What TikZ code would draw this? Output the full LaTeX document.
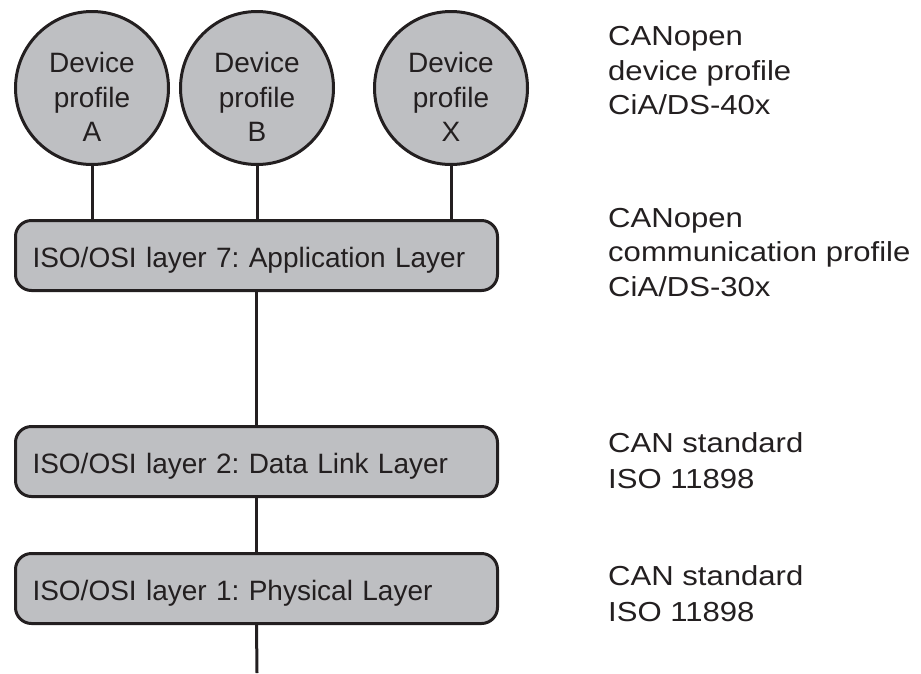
\documentclass[tikz,border=0pt]{standalone}
\usepackage{fontspec}
\setmainfont{Liberation Sans}
\newfontfamily\sidefont[FakeStretch=1.13]{Liberation Sans}
\frenchspacing
\definecolor{boxfill}{RGB}{190,191,194}
\definecolor{ink}{RGB}{35,31,32}
\begin{document}
\begin{tikzpicture}[x=1pt,y=-1pt,
  every node/.style={text=ink},
  circ/.style={circle, draw=ink, fill=boxfill, line width=3pt, minimum size=153pt, inner sep=0pt},
  ctext/.style={align=center, font=\fontsize{28}{34.5}\selectfont, inner sep=0pt},
  layer/.style={draw=ink, fill=boxfill, line width=3pt, rounded corners=16pt,
    minimum width=482pt, minimum height=70pt, inner xsep=17pt, inner ysep=0pt,
    text width=448pt, align=left, text height=24pt, text depth=0pt,
    font=\fontsize{28}{34}\selectfont},
  side/.style={anchor=north west, align=left, inner sep=0pt, font=\sidefont\fontsize{27.5}{34.5}\selectfont},
  sidetwo/.style={side, font=\sidefont\fontsize{27.5}{36.5}\selectfont},
  conn/.style={draw=ink, line width=3pt}]
\useasboundingbox (0,0) rectangle (921,673);

% device profile circles
\node[circ] (A) at (92,88) {};
\node[ctext] (At) at (92,97.3) {Device\\profile\\A};
\node[circ] (B) at (257,88) {};
\node[ctext] (Bt) at (257,97.3) {Device\\profile\\B};
\node[circ] (X) at (451,88) {};
\node[ctext] (Xt) at (451,97.3) {Device\\profile\\X};

% layers
\node[layer] (L7) at (256.5,255.5) {ISO/OSI layer 7: Application Layer};
\node[layer] (L2) at (256.5,461.5) {ISO/OSI layer 2: Data Link Layer};
\node[layer] (L1) at (256.5,588.5) {ISO/OSI layer 1: Physical Layer};
\coordinate (bot) at (257,673);

% connectors
\draw[conn] (A.south) -- (A.south |- L7.north);
\draw[conn] (B.south) -- (B.south |- L7.north);
\draw[conn] (X.south) -- (X.south |- L7.north);
\draw[conn] (L7.south) -- (L2.north);
\draw[conn] (L2.south) -- (L1.north);
\draw[conn] (L1.south) -- (bot);

% side descriptions
\node[side] (S1) at (608,26.5) {CANopen\\device profile\\CiA/DS-40x};
\node[side] (S2) at (608,208) {CANopen\\communication profile\\CiA/DS-30x};
\node[sidetwo] (S3) at (608,432) {CAN standard\\ISO 11898};
\node[sidetwo] (S4) at (608,565) {CAN standard\\ISO 11898};
\end{tikzpicture}
\end{document}
